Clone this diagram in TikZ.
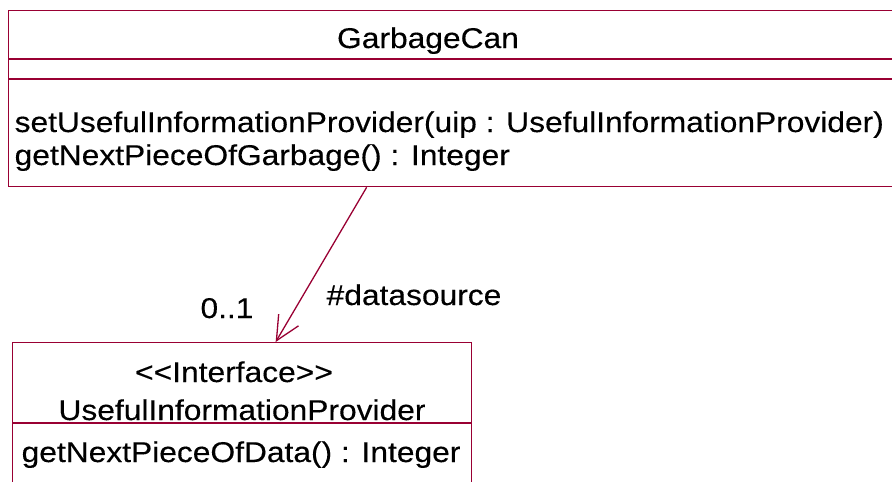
\documentclass[tikz,border=0pt]{standalone}
\usepackage{fontspec}
\usepackage{xcolor}
\usepackage{tikz}
\usetikzlibrary{arrows.meta,positioning}
\newfontfamily\umlfont[FakeStretch=1.11,FakeBold=0.3]{Liberation Sans}
\definecolor{umlred}{RGB}{153,0,51}

\begin{document}
\begin{tikzpicture}[x=1pt,y=-1pt,inner sep=0pt,line width=1.3pt,font=\umlfont\fontsize{28.6}{33}\selectfont,>={Straight Barb[length=24pt,width=23pt]}]
                \tikzstyle{umlbox}=[draw=umlred,anchor=north west]
                \tikzstyle{divider}=[draw=umlred]
                \tikzstyle{assoc}=[->,draw=umlred]
                \clip (0,0) rectangle (892,482);
                \node[umlbox,minimum width=900pt,minimum height=176pt] (can) at (8,10) {};
                \node[umlbox,minimum width=459pt,minimum height=170pt] (uip) at (12,342) {};
                \draw[divider] (can.west |- 0,59) -- (can.east |- 0,59);
                \draw[divider] (can.west |- 0,79) -- (can.east |- 0,79);
                \draw[divider] (uip.west |- 0,423) -- (uip.east |- 0,423);
                \node[anchor=base] (canname) at (428,48) {GarbageCan};
                \node[anchor=base west] (opset) at (14,132) {setUsefulInformationProvider(uip : UsefulInformationProvider)};
                \node[anchor=base west] (opget) at (14,165) {getNextPieceOfGarbage() : Integer};
                \node[anchor=base] (stereo) at (234,382) {<<Interface>>};
                \node[anchor=base] (uipname) at (242,420) {UsefulInformationProvider};
                \node[anchor=base west] (opdata) at (21,462) {getNextPieceOfData() : Integer};
                \path
                    ([xshift=-92pt]can.south) edge[assoc] ([xshift=33.5pt]uip.north);
                \node[anchor=base] (mult) at (227,318) {0..1};
                \node[anchor=base west] (role) at (326,305) {\#datasource};
            \end{tikzpicture}
\end{document}
